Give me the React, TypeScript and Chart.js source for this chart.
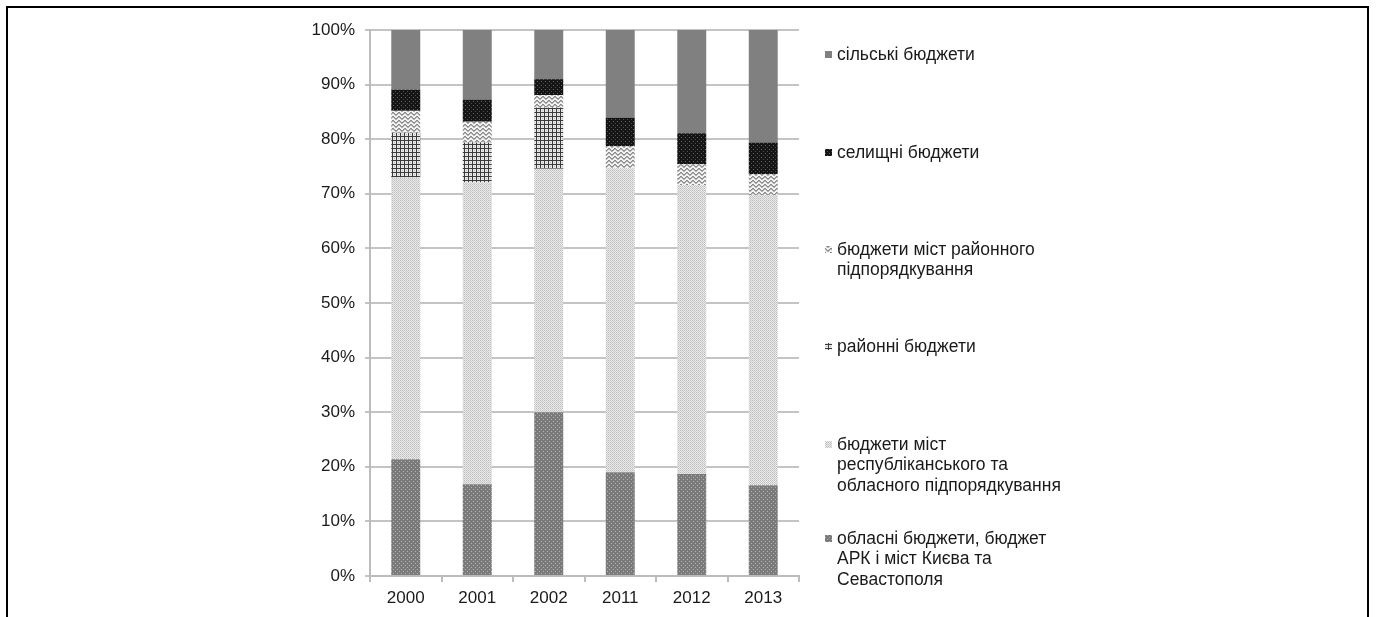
import { useEffect, useRef } from "react";
import { Chart, registerables } from "chart.js";
Chart.register(...registerables);

const categories = ["2000", "2001", "2002", "2011", "2012", "2013"];
const oblasni = [21.4, 16.8, 30.0, 19.0, 18.7, 16.6];
const mistaRespObl = [51.6, 55.3, 44.6, 55.7, 52.9, 53.2];
const raionni = [8.2, 7.3, 11.2, 0, 0, 0];
const mistaRaion = [4.0, 3.8, 2.3, 4.0, 3.8, 3.8];
const selyshchni = [3.9, 4.0, 2.9, 5.2, 5.7, 5.8];
const silski = [11.0, 12.8, 9.0, 16.1, 18.9, 20.7];

const seriesNames = [
  "обласні бюджети, бюджет АРК і міст Києва та Севастополя",
  "бюджети міст республіканського та обласного підпорядкування",
  "районні бюджети",
  "бюджети міст районного підпорядкування",
  "селищні бюджети",
  "сільські бюджети",
];
const legendLines = [
  ["обласні бюджети, бюджет", "АРК і міст Києва та", "Севастополя"],
  ["бюджети міст", "республіканського та", "обласного підпорядкування"],
  ["районні бюджети"],
  ["бюджети міст районного", "підпорядкування"],
  ["селищні бюджети"],
  ["сільські бюджети"],
];
const yTickValues = [0, 10, 20, 30, 40, 50, 60, 70, 80, 90, 100];

const FONT = "'Liberation Sans', Arial, sans-serif";

function makePattern(kind: string): CanvasPattern | string {
  const c = document.createElement("canvas");
  const ctx = c.getContext("2d")!;
  const px = (x: number, y: number, col: string) => {
    ctx.fillStyle = col;
    ctx.fillRect(x, y, 1, 1);
  };
  if (kind === "oblasni") {
    c.width = 4; c.height = 4;
    ctx.fillStyle = "#7a7a7a"; ctx.fillRect(0, 0, 4, 4);
    px(1, 1, "#b4b4b4"); px(3, 3, "#b4b4b4");
  } else if (kind === "resp") {
    c.width = 2; c.height = 2;
    ctx.fillStyle = "#ebebeb"; ctx.fillRect(0, 0, 2, 2);
    px(0, 0, "#bdbdbd"); px(1, 1, "#cccccc");
  } else if (kind === "raionni") {
    c.width = 4; c.height = 4;
    ctx.fillStyle = "#e8e8e8"; ctx.fillRect(0, 0, 4, 4);
    ctx.fillStyle = "#3a3a3a"; ctx.fillRect(0, 0, 4, 1); ctx.fillRect(0, 0, 1, 4);
    px(2, 2, "#bbbbbb");
  } else if (kind === "raion") {
    c.width = 6; c.height = 4;
    ctx.fillStyle = "#f2f2f2"; ctx.fillRect(0, 0, 6, 4);
    const pts = [[0, 2], [1, 1], [2, 0], [3, 0], [4, 1], [5, 2]];
    pts.forEach(([x, y]) => { px(x, y, "#8a8a8a"); px(x, (y + 1) % 4, "#b0b0b0"); });
  } else if (kind === "sel") {
    c.width = 4; c.height = 4;
    ctx.fillStyle = "#141414"; ctx.fillRect(0, 0, 4, 4);
    px(1, 1, "#6a6a6a"); px(3, 3, "#505050");
  } else {
    return "#808080";
  }
  return ctx.createPattern(c, "repeat")!;
}

export default function App() {
  const ref = useRef<HTMLCanvasElement>(null);
  useEffect(() => {
    const canvas = ref.current!;
    const fills = ["oblasni", "resp", "raionni", "raion", "sel", "silski"].map(makePattern);
    const values = [oblasni, mistaRespObl, raionni, mistaRaion, selyshchni, silski];

    const legendPlugin = {
      id: "customLegend",
      afterDraw(chart: any) {
        const ctx = chart.ctx as CanvasRenderingContext2D;
        const firstY = [539, 445, 347, 250, 153, 55];
        const lineH = 20.6;
        ctx.save();
        ctx.font = `17.5px ${FONT}`;
        ctx.textBaseline = "middle";
        legendLines.forEach((lines, i) => {
          const y0 = firstY[i];
          ctx.fillStyle = fills[i] as any;
          ctx.fillRect(825, y0 - 4, 7, 7);
          ctx.fillStyle = "#1a1a1a";
          lines.forEach((t, j) => ctx.fillText(t, 837, y0 + j * lineH));
        });
        ctx.restore();
      },
    };

    const chart = new Chart(canvas, {
      type: "bar",
      data: {
        labels: categories,
        datasets: values.map((v, i) => ({
          label: seriesNames[i],
          data: v,
          backgroundColor: fills[i] as any,
          borderWidth: 0,
          barPercentage: 1,
          categoryPercentage: 0.405,
        })),
      },
      options: {
        animation: false,
        responsive: false,
        maintainAspectRatio: false,
        layout: { padding: { left: 300, top: 30, right: 578, bottom: 0 } },
        plugins: { legend: { display: false }, tooltip: { enabled: false } },
        scales: {
          x: {
            stacked: true,
            grid: { drawOnChartArea: false, drawTicks: true, tickLength: 6, color: "#bcbcbc", lineWidth: 2, offset: true },
            border: { color: "#bcbcbc", width: 2 },
            ticks: { color: "#1a1a1a", font: { size: 17, family: FONT }, padding: 6 },
            afterFit: (s: any) => { s.height = 41; },
          },
          y: {
            stacked: true,
            min: 0,
            max: 100,
            afterBuildTicks: (s: any) => { s.ticks = yTickValues.map((v) => ({ value: v })); },
            ticks: { color: "#1a1a1a", font: { size: 17, family: FONT }, padding: 10, callback: (v: any) => v + "%" },
            grid: { color: "#c4c4c4", lineWidth: 2, tickLength: 5 },
            border: { color: "#bcbcbc", width: 2 },
            afterFit: (s: any) => { s.width = 70; },
          },
        },
      },
      plugins: [legendPlugin],
    });
    return () => chart.destroy();
  }, []);

  return (
    <div style={{ position: "fixed", left: 0, top: 0, width: 1377, height: 617, overflow: "hidden", background: "#fff" }}>
      <canvas ref={ref} width={1377} height={617} style={{ position: "absolute", left: 0, top: 0 }} />
      <div style={{ position: "absolute", left: 6, top: 6, width: 1363, height: 700, border: "2px solid #000", boxSizing: "border-box", pointerEvents: "none" }} />
    </div>
  );
}
